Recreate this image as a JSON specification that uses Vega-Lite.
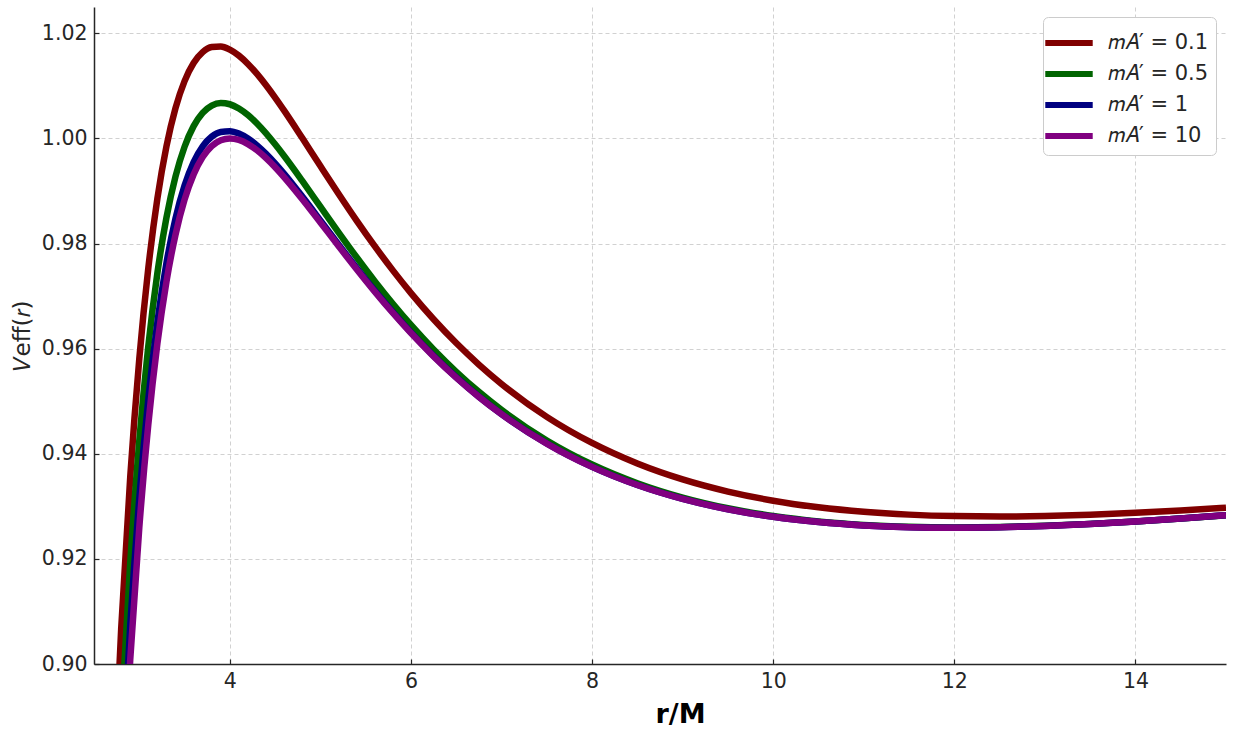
{
  "$schema": "https://vega.github.io/schema/vega-lite/v6.json",
  "width": 1132,
  "height": 657,
  "autosize": {"type": "none"},
  "padding": {"left": 94, "top": 7, "right": 9, "bottom": 68},
  "background": "white",
  "config": {
    "view": {"stroke": null},
    "font": "DejaVu Sans",
    "axis": {
      "domainColor": "#262626",
      "domainWidth": 1.5,
      "tickColor": "#262626",
      "tickSize": -5,
      "tickWidth": 1.2,
      "labelFontSize": 20.5,
      "labelColor": "#262626",
      "labelPadding": 12,
      "gridColor": "#cccccc",
      "gridDash": [4, 3],
      "gridWidth": 0.9
    }
  },
  "data": {
    "values": [
      {"m": "0.1", "r": 2.7, "V": 0.86958}, {"m": "0.1", "r": 2.8, "V": 0.90663}, {"m": "0.1", "r": 2.9, "V": 0.93556}, {"m": "0.1", "r": 3.0, "V": 0.95803}, {"m": "0.1", "r": 3.1, "V": 0.97536}, {"m": "0.1", "r": 3.2, "V": 0.98857}, {"m": "0.1", "r": 3.3, "V": 0.99849}, {"m": "0.1", "r": 3.4, "V": 1.00576}, {"m": "0.1", "r": 3.5, "V": 1.0109}, {"m": "0.1", "r": 3.6, "V": 1.01434}, {"m": "0.1", "r": 3.7, "V": 1.01641}, {"m": "0.1", "r": 3.8, "V": 1.01739}, {"m": "0.1", "r": 3.9, "V": 1.01749}, {"m": "0.1", "r": 4.0, "V": 1.01689}, {"m": "0.1", "r": 4.1, "V": 1.01575}, {"m": "0.1", "r": 4.2, "V": 1.01417}, {"m": "0.1", "r": 4.3, "V": 1.01226}, {"m": "0.1", "r": 4.4, "V": 1.0101}, {"m": "0.1", "r": 4.5, "V": 1.00775}, {"m": "0.1", "r": 4.6, "V": 1.00527}, {"m": "0.1", "r": 4.8, "V": 1.00006}, {"m": "0.1", "r": 5.0, "V": 0.99474}, {"m": "0.1", "r": 5.2, "V": 0.98948}, {"m": "0.1", "r": 5.4, "V": 0.98437}, {"m": "0.1", "r": 5.6, "V": 0.9795}, {"m": "0.1", "r": 5.8, "V": 0.97489}, {"m": "0.1", "r": 6.0, "V": 0.97057}, {"m": "0.1", "r": 6.25, "V": 0.96559}, {"m": "0.1", "r": 6.5, "V": 0.96106}, {"m": "0.1", "r": 6.75, "V": 0.95697}, {"m": "0.1", "r": 7.0, "V": 0.95328}, {"m": "0.1", "r": 7.5, "V": 0.94702}, {"m": "0.1", "r": 8.0, "V": 0.94205}, {"m": "0.1", "r": 8.5, "V": 0.93814}, {"m": "0.1", "r": 9.0, "V": 0.93511}, {"m": "0.1", "r": 9.5, "V": 0.9328}, {"m": "0.1", "r": 10.0, "V": 0.93107}, {"m": "0.1", "r": 10.5, "V": 0.92982}, {"m": "0.1", "r": 11.0, "V": 0.92896}, {"m": "0.1", "r": 11.5, "V": 0.92842}, {"m": "0.1", "r": 12.0, "V": 0.92814}, {"m": "0.1", "r": 12.5, "V": 0.92806}, {"m": "0.1", "r": 13.0, "V": 0.92816}, {"m": "0.1", "r": 13.5, "V": 0.9284}, {"m": "0.1", "r": 14.0, "V": 0.92876}, {"m": "0.1", "r": 14.5, "V": 0.92921}, {"m": "0.1", "r": 15.0, "V": 0.92973},
      {"m": "0.5", "r": 2.7, "V": 0.85134}, {"m": "0.5", "r": 2.8, "V": 0.88937}, {"m": "0.5", "r": 2.9, "V": 0.91918}, {"m": "0.5", "r": 3.0, "V": 0.94245}, {"m": "0.5", "r": 3.1, "V": 0.96051}, {"m": "0.5", "r": 3.2, "V": 0.97439}, {"m": "0.5", "r": 3.3, "V": 0.98492}, {"m": "0.5", "r": 3.4, "V": 0.99275}, {"m": "0.5", "r": 3.5, "V": 0.99841}, {"m": "0.5", "r": 3.6, "V": 1.00233}, {"m": "0.5", "r": 3.7, "V": 1.00485}, {"m": "0.5", "r": 3.8, "V": 1.00624}, {"m": "0.5", "r": 3.9, "V": 1.00673}, {"m": "0.5", "r": 4.0, "V": 1.0065}, {"m": "0.5", "r": 4.1, "V": 1.00569}, {"m": "0.5", "r": 4.2, "V": 1.00444}, {"m": "0.5", "r": 4.3, "V": 1.00283}, {"m": "0.5", "r": 4.4, "V": 1.00095}, {"m": "0.5", "r": 4.5, "V": 0.99887}, {"m": "0.5", "r": 4.6, "V": 0.99665}, {"m": "0.5", "r": 4.8, "V": 0.99191}, {"m": "0.5", "r": 5.0, "V": 0.98702}, {"m": "0.5", "r": 5.2, "V": 0.98214}, {"m": "0.5", "r": 5.4, "V": 0.97739}, {"m": "0.5", "r": 5.6, "V": 0.97284}, {"m": "0.5", "r": 5.8, "V": 0.96854}, {"m": "0.5", "r": 6.0, "V": 0.9645}, {"m": "0.5", "r": 6.25, "V": 0.95984}, {"m": "0.5", "r": 6.5, "V": 0.9556}, {"m": "0.5", "r": 6.75, "V": 0.95178}, {"m": "0.5", "r": 7.0, "V": 0.94835}, {"m": "0.5", "r": 7.5, "V": 0.94254}, {"m": "0.5", "r": 8.0, "V": 0.93796}, {"m": "0.5", "r": 8.5, "V": 0.9344}, {"m": "0.5", "r": 9.0, "V": 0.93167}, {"m": "0.5", "r": 9.5, "V": 0.92963}, {"m": "0.5", "r": 10.0, "V": 0.92815}, {"m": "0.5", "r": 10.5, "V": 0.92712}, {"m": "0.5", "r": 11.0, "V": 0.92646}, {"m": "0.5", "r": 11.5, "V": 0.9261}, {"m": "0.5", "r": 12.0, "V": 0.92598}, {"m": "0.5", "r": 12.5, "V": 0.92606}, {"m": "0.5", "r": 13.0, "V": 0.92629}, {"m": "0.5", "r": 13.5, "V": 0.92666}, {"m": "0.5", "r": 14.0, "V": 0.92713}, {"m": "0.5", "r": 14.5, "V": 0.92769}, {"m": "0.5", "r": 15.0, "V": 0.92831},
      {"m": "1", "r": 2.7, "V": 0.8371}, {"m": "1", "r": 2.8, "V": 0.87633}, {"m": "1", "r": 2.9, "V": 0.90722}, {"m": "1", "r": 3.0, "V": 0.93146}, {"m": "1", "r": 3.1, "V": 0.95038}, {"m": "1", "r": 3.2, "V": 0.96505}, {"m": "1", "r": 3.3, "V": 0.97629}, {"m": "1", "r": 3.4, "V": 0.98477}, {"m": "1", "r": 3.5, "V": 0.99102}, {"m": "1", "r": 3.6, "V": 0.99548}, {"m": "1", "r": 3.7, "V": 0.99849}, {"m": "1", "r": 3.8, "V": 1.00033}, {"m": "1", "r": 3.9, "V": 1.00123}, {"m": "1", "r": 4.0, "V": 1.00137}, {"m": "1", "r": 4.1, "V": 1.00092}, {"m": "1", "r": 4.2, "V": 0.99998}, {"m": "1", "r": 4.3, "V": 0.99867}, {"m": "1", "r": 4.4, "V": 0.99707}, {"m": "1", "r": 4.5, "V": 0.99524}, {"m": "1", "r": 4.6, "V": 0.99325}, {"m": "1", "r": 4.8, "V": 0.98893}, {"m": "1", "r": 5.0, "V": 0.9844}, {"m": "1", "r": 5.2, "V": 0.97983}, {"m": "1", "r": 5.4, "V": 0.97535}, {"m": "1", "r": 5.6, "V": 0.97104}, {"m": "1", "r": 5.8, "V": 0.96695}, {"m": "1", "r": 6.0, "V": 0.96309}, {"m": "1", "r": 6.25, "V": 0.95862}, {"m": "1", "r": 6.5, "V": 0.95456}, {"m": "1", "r": 6.75, "V": 0.95087}, {"m": "1", "r": 7.0, "V": 0.94756}, {"m": "1", "r": 7.5, "V": 0.94195}, {"m": "1", "r": 8.0, "V": 0.93751}, {"m": "1", "r": 8.5, "V": 0.93406}, {"m": "1", "r": 9.0, "V": 0.93142}, {"m": "1", "r": 9.5, "V": 0.92944}, {"m": "1", "r": 10.0, "V": 0.928}, {"m": "1", "r": 10.5, "V": 0.92701}, {"m": "1", "r": 11.0, "V": 0.92637}, {"m": "1", "r": 11.5, "V": 0.92603}, {"m": "1", "r": 12.0, "V": 0.92593}, {"m": "1", "r": 12.5, "V": 0.92602}, {"m": "1", "r": 13.0, "V": 0.92626}, {"m": "1", "r": 13.5, "V": 0.92664}, {"m": "1", "r": 14.0, "V": 0.92711}, {"m": "1", "r": 14.5, "V": 0.92767}, {"m": "1", "r": 15.0, "V": 0.9283},
      {"m": "10", "r": 2.7, "V": 0.82828}, {"m": "10", "r": 2.8, "V": 0.86881}, {"m": "10", "r": 2.9, "V": 0.90078}, {"m": "10", "r": 3.0, "V": 0.92593}, {"m": "10", "r": 3.1, "V": 0.94562}, {"m": "10", "r": 3.2, "V": 0.96094}, {"m": "10", "r": 3.3, "V": 0.97273}, {"m": "10", "r": 3.4, "V": 0.98168}, {"m": "10", "r": 3.5, "V": 0.98834}, {"m": "10", "r": 3.6, "V": 0.99314}, {"m": "10", "r": 3.7, "V": 0.99645}, {"m": "10", "r": 3.8, "V": 0.99854}, {"m": "10", "r": 3.9, "V": 0.99966}, {"m": "10", "r": 4.0, "V": 1.0}, {"m": "10", "r": 4.1, "V": 0.99971}, {"m": "10", "r": 4.2, "V": 0.99892}, {"m": "10", "r": 4.3, "V": 0.99774}, {"m": "10", "r": 4.4, "V": 0.99624}, {"m": "10", "r": 4.5, "V": 0.99451}, {"m": "10", "r": 4.6, "V": 0.9926}, {"m": "10", "r": 4.8, "V": 0.98843}, {"m": "10", "r": 5.0, "V": 0.984}, {"m": "10", "r": 5.2, "V": 0.97952}, {"m": "10", "r": 5.4, "V": 0.97511}, {"m": "10", "r": 5.6, "V": 0.97085}, {"m": "10", "r": 5.8, "V": 0.96679}, {"m": "10", "r": 6.0, "V": 0.96296}, {"m": "10", "r": 6.25, "V": 0.95853}, {"m": "10", "r": 6.5, "V": 0.95448}, {"m": "10", "r": 6.75, "V": 0.95082}, {"m": "10", "r": 7.0, "V": 0.94752}, {"m": "10", "r": 7.5, "V": 0.94193}, {"m": "10", "r": 8.0, "V": 0.9375}, {"m": "10", "r": 8.5, "V": 0.93405}, {"m": "10", "r": 9.0, "V": 0.93141}, {"m": "10", "r": 9.5, "V": 0.92944}, {"m": "10", "r": 10.0, "V": 0.928}, {"m": "10", "r": 10.5, "V": 0.92701}, {"m": "10", "r": 11.0, "V": 0.92637}, {"m": "10", "r": 11.5, "V": 0.92603}, {"m": "10", "r": 12.0, "V": 0.92593}, {"m": "10", "r": 12.5, "V": 0.92602}, {"m": "10", "r": 13.0, "V": 0.92626}, {"m": "10", "r": 13.5, "V": 0.92664}, {"m": "10", "r": 14.0, "V": 0.92711}, {"m": "10", "r": 14.5, "V": 0.92767}, {"m": "10", "r": 15.0, "V": 0.9283}
    ]
  },
  "mark": {"type": "line", "clip": true, "strokeWidth": 6.5, "interpolate": "monotone", "strokeCap": "butt"},
  "encoding": {
    "x": {
      "field": "r",
      "type": "quantitative",
      "scale": {"domain": [2.5, 15], "nice": false, "zero": false},
      "axis": {
        "title": "r/M",
        "values": [4, 6, 8, 10, 12, 14],
        "format": "d",
        "titleFontSize": 27,
        "titleFontWeight": "bold",
        "titleColor": "#000000",
        "titlePadding": 10,
        "titleX": 586
      }
    },
    "y": {
      "field": "V",
      "type": "quantitative",
      "scale": {"domain": [0.9, 1.025], "nice": false, "zero": false},
      "axis": {
        "title": "𝑉eff(𝑟)",
        "values": [0.9, 0.92, 0.94, 0.96, 0.98, 1.0, 1.02],
        "format": ".2f",
        "titleFontSize": 23,
        "titleFontWeight": "normal",
        "titleColor": "#262626",
        "titlePadding": 7
      }
    },
    "color": {
      "field": "m",
      "type": "nominal",
      "scale": {"domain": ["0.1", "0.5", "1", "10"], "range": ["#800000", "#006400", "#000080", "#800080"]},
      "legend": {
        "title": null,
        "orient": "top-right",
        "offset": 10,
        "fillColor": "white",
        "strokeColor": "#cccccc",
        "cornerRadius": 5,
        "padding": 7,
        "symbolType": "M-1.5,0H1.5",
        "symbolStrokeWidth": 6,
        "symbolSize": 1000,
        "labelFontSize": 21,
        "labelColor": "#262626",
        "labelOffset": 20,
        "rowPadding": 0,
        "labelExpr": "'𝑚𝐴′ = ' + datum.label"
      }
    }
  }
}
